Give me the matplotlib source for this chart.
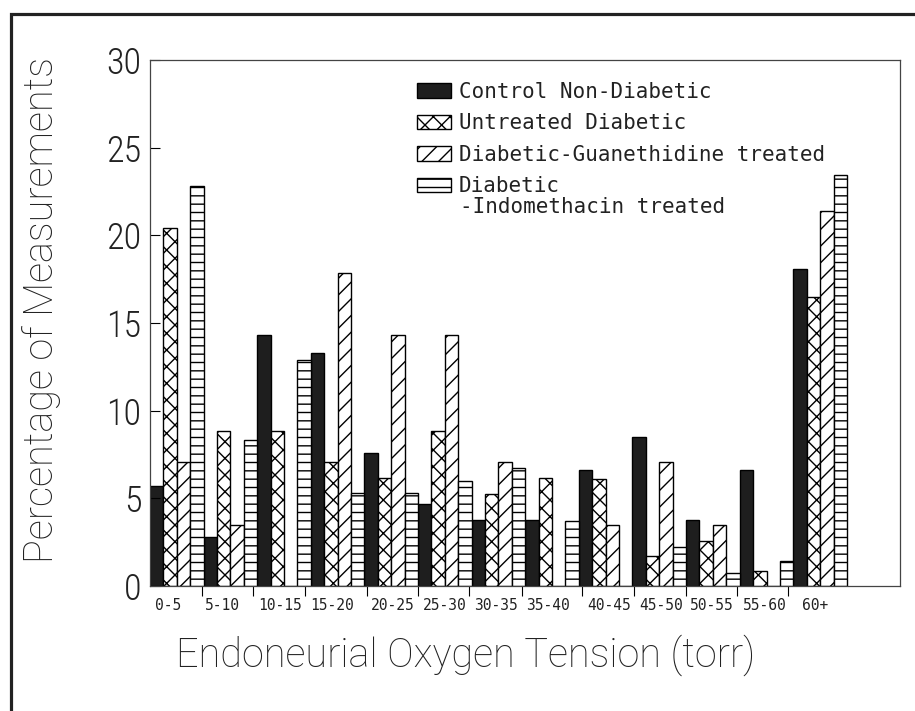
import numpy as np
import matplotlib
matplotlib.use('Agg')
import matplotlib.pyplot as plt
from matplotlib.patches import Rectangle

categories = ['0-5', '5-10', '10-15', '15-20', '20-25', '25-30', '30-35',
              '35-40', '40-45', '45-50', '50-55', '55-60', '60+']
control = [5.7, 2.8, 14.3, 13.3, 7.6, 4.7, 3.75, 3.75, 6.6, 8.5, 3.75, 6.6, 18.1]
untreated = [20.4, 8.85, 8.85, 7.05, 6.15, 8.85, 5.25, 6.15, 6.1, 1.7, 2.55, 0.85, 16.5]
guan = [7.1, 3.5, 0, 17.85, 14.3, 14.3, 7.1, 0, 3.5, 7.1, 3.5, 0, 21.4]
indo = [22.8, 8.3, 12.9, 5.3, 5.3, 6.0, 6.75, 3.7, 0, 2.25, 0.75, 1.45, 23.45]
series_names = ['Control Non-Diabetic', 'Untreated Diabetic',
                'Diabetic-Guanethidine treated', 'Diabetic']
yticks = [0, 5, 10, 15, 20, 25, 30]

tick_font = ['Roboto Condensed', 'Roboto', 'DejaVu Sans']
label_font = ['Roboto', 'DejaVu Sans']
mono_font = ['DejaVu Sans Mono']

fig = plt.figure(figsize=(9.15, 7.11), dpi=100)
ax = fig.add_axes([150/915, 1-586/711, 750/915, 526/711])

# outer border of the page
fig.patches.append(Rectangle((11/915, -0.1), 1.2, 1.1 - 14/711,
                             transform=fig.transFigure, fill=False,
                             lw=2.3, ec='#222222'))

x = np.arange(len(categories))
w = 0.25
styles = [dict(facecolor='#1e1e1e', hatch=None),
          dict(facecolor='white', hatch='xx'),
          dict(facecolor='white', hatch='//'),
          dict(facecolor='white', hatch='--')]
handles = []
for k, vals in enumerate([control, untreated, guan, indo]):
    b = ax.bar(x + (k - 1.5) * w, vals, width=w, edgecolor='black',
               linewidth=1.0, label=series_names[k], **styles[k])
    handles.append(b)

ax.set_xlim(-0.5, 13.49)
ax.set_ylim(0, 30)

# y axis
ax.set_yticks(yticks)
ax.tick_params(axis='y', direction='in', length=7, width=0.8, pad=6)
for t in ax.get_yticklabels():
    t.set_family(tick_font)
    t.set_fontsize(26)
    t.set_fontweight('light')
    t.set_color('#222222')

# x axis: tick marks between groups, labels between the marks
tick_pos = [0.465, 1.42, 2.39, 3.54, 4.49, 5.45, 6.43, 7.56, 8.53, 9.49, 10.45, 11.40]
label_pos = [-0.17, 0.86, 1.93, 2.89, 4.02, 5.0, 5.95, 6.92, 8.06, 9.03, 9.98, 10.96, 11.91]
ax.set_xticks(tick_pos)
ax.set_xticklabels([''] * len(tick_pos))
ax.set_xticks(label_pos, minor=True)
ax.set_xticklabels(categories, minor=True, family=mono_font, fontsize=10.5,
                   color='#222222')
ax.tick_params(axis='x', which='major', direction='out', length=7, width=0.8)
ax.tick_params(axis='x', which='minor', length=0, pad=9)

for s in ax.spines.values():
    s.set_linewidth(0.9)
    s.set_color('#444444')

fig.text(466/915, 1-655/711, 'Endoneurial Oxygen Tension (torr)',
         ha='center', va='center', family=label_font, fontsize=28.5,
         fontweight='light', color='#222222')
fig.text(42/915, 1-310/711, 'Percentage of Measurements', rotation=90,
         ha='center', va='center', family=label_font, fontsize=28.5,
         fontweight='light', color='#222222')

leg = ax.legend(handles=handles, loc='upper left',
                bbox_to_anchor=(417/915, 1-82/711), bbox_transform=fig.transFigure,
                frameon=False, prop={'family': mono_font, 'size': 15},
                handlelength=1.65, handleheight=0.7, handletextpad=0.35,
                labelspacing=0.55, borderpad=0, borderaxespad=0)
for t in leg.get_texts():
    t.set_color('#222222')
fig.text(460/915, 1-207/711, '-Indomethacin treated', ha='left', va='center',
         family=mono_font, fontsize=15, color='#222222')

fig.savefig('out.png', dpi=100)
